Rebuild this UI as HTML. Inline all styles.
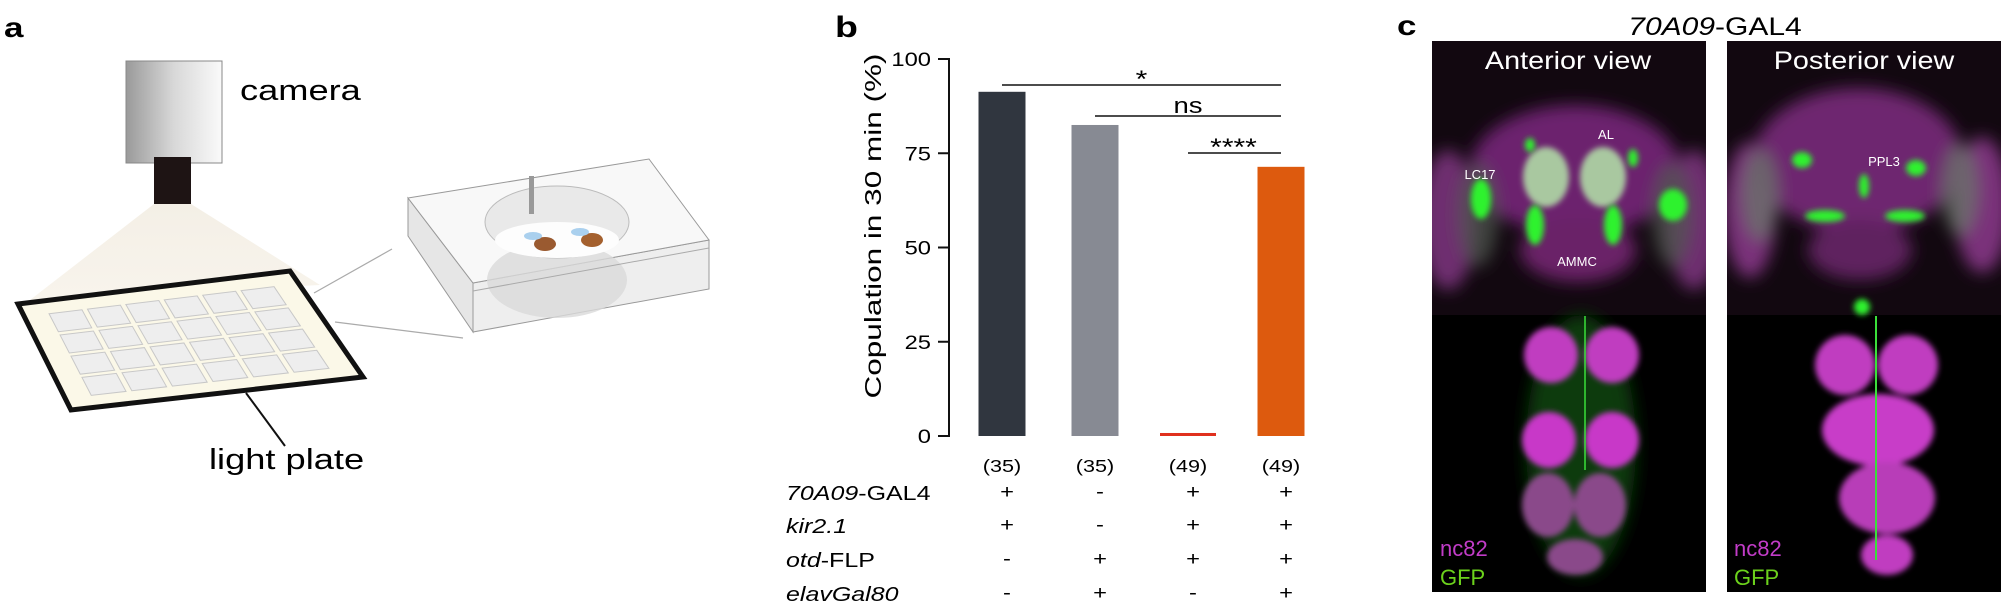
<!DOCTYPE html>
<html><head><meta charset="utf-8"><style>
html,body{margin:0;padding:0;background:#fff;width:2005px;height:616px;overflow:hidden}
svg{display:block;font-family:"Liberation Sans",Arial,sans-serif}
</style></head><body>
<svg id="fig" width="2005" height="616" viewBox="0 0 2005 616" xmlns="http://www.w3.org/2000/svg">
<defs>
<linearGradient id="camg" x1="0" x2="1" y1="0" y2="0"><stop offset="0" stop-color="#9a9a9a"/><stop offset="0.5" stop-color="#d8d8d8"/><stop offset="1" stop-color="#fafafa"/></linearGradient>
<linearGradient id="cone" x1="0" x2="0" y1="0" y2="1"><stop offset="0" stop-color="#f4efe6"/><stop offset="1" stop-color="#f8f4ec"/></linearGradient>
<filter id="b3" x="-30%" y="-30%" width="160%" height="160%"><feGaussianBlur stdDeviation="3"/></filter>
<filter id="b6" x="-30%" y="-30%" width="160%" height="160%"><feGaussianBlur stdDeviation="6"/></filter>
<filter id="b12" x="-40%" y="-40%" width="180%" height="180%"><feGaussianBlur stdDeviation="8"/></filter>
<clipPath id="clipA"><rect x="1432" y="41" width="274" height="551"/></clipPath>
<clipPath id="clipP"><rect x="1727" y="41" width="274" height="551"/></clipPath>
</defs>

<!-- ========== Panel a ========== -->
<g>
<text transform="translate(4,37) scale(1.25,1)" font-size="28" font-weight="bold">a</text>
<polygon points="154,204 191,204 320,285 30,300" fill="url(#cone)"/>
<rect x="126" y="61" width="96" height="102" fill="url(#camg)" stroke="#888" stroke-width="1"/>
<rect x="154" y="157" width="37" height="47" fill="#1e1414"/>
<text transform="translate(240,100) scale(1.25,1)" font-size="29">camera</text>
<polygon points="18,304 290,271 363,377 71,410" fill="#fbf8e8" stroke="#111" stroke-width="5" stroke-linejoin="miter"/>
<g id="wells"></g>
<line x1="246" y1="393" x2="285" y2="446" stroke="#111" stroke-width="2"/>
<text transform="translate(209,469) scale(1.25,1)" font-size="29">light plate</text>
<line x1="314" y1="293" x2="392" y2="249" stroke="#aaa" stroke-width="1.2"/>
<line x1="335" y1="322" x2="463" y2="338" stroke="#aaa" stroke-width="1.2"/>
<g>
<polygon points="408,198 473,283 473,332 408,236" fill="#e6e6e6" stroke="#999" stroke-width="1"/>
<polygon points="473,283 709,240 709,289 473,332" fill="#eeeeee" stroke="#999" stroke-width="1"/>
<polygon points="408,198 649,159 709,240 473,283" fill="#f8f8f8" stroke="#999" stroke-width="1"/>
<ellipse cx="557" cy="280" rx="70" ry="38" fill="#d9d9d9" opacity="0.8"/>
<ellipse cx="557" cy="222" rx="72" ry="36" fill="#e9e9e9" stroke="#bbb"/>
<ellipse cx="557" cy="240" rx="62" ry="18" fill="#fdfdfd"/>
<rect x="529" y="176" width="5" height="38" fill="#999"/>
<ellipse cx="545" cy="244" rx="11" ry="7" fill="#9a5a30"/>
<ellipse cx="592" cy="240" rx="11" ry="7" fill="#a4602e"/>
<ellipse cx="533" cy="236" rx="9" ry="4" fill="#aad0ee"/>
<ellipse cx="580" cy="232" rx="9" ry="4" fill="#aad0ee"/>
<line x1="473" y1="291" x2="709" y2="248" stroke="#aaa"/>
</g>
</g>

<!-- ========== Panel b ========== -->
<g id="chart">
<text transform="translate(835,37) scale(1.25,1)" font-size="30" font-weight="bold">b</text>
<text transform="translate(881,226) rotate(-90)" text-anchor="middle" font-size="23" textLength="345" lengthAdjust="spacingAndGlyphs">Copulation in 30 min (%)</text>
<line x1="949" y1="58" x2="949" y2="437" stroke="#111" stroke-width="2"/>
<g id="yticks"></g>
<g id="bars"></g>
<g id="sig"></g>
<g id="nlabels"></g>
<g id="geno"></g>
</g>

<!-- ========== Panel c ========== -->
<g>
<text transform="translate(1397,35) scale(1.25,1)" font-size="28" font-weight="bold">c</text>
<text transform="translate(1715,35) scale(1.2,1)" text-anchor="middle" font-size="25"><tspan font-style="italic">70A09</tspan>-GAL4</text>

<g clip-path="url(#clipA)">
<rect x="1432" y="41" width="274" height="551" fill="#000"/>
<rect x="1432" y="41" width="274" height="274" fill="#120810"/>
<g filter="url(#b12)">
<ellipse cx="1448" cy="220" rx="28" ry="70" fill="#6e2e70"/>
<ellipse cx="1694" cy="220" rx="28" ry="70" fill="#6e2e70"/>
<ellipse cx="1575" cy="170" rx="105" ry="65" fill="#6c246e"/>
<ellipse cx="1578" cy="250" rx="58" ry="32" fill="#6a2268"/>
<ellipse cx="1478" cy="215" rx="20" ry="52" fill="#505a50" opacity="0.7"/>
<ellipse cx="1672" cy="215" rx="20" ry="52" fill="#505a50" opacity="0.7"/>
</g>
<g filter="url(#b3)">
<ellipse cx="1546" cy="177" rx="23" ry="30" fill="#a9c8a0"/>
<ellipse cx="1603" cy="177" rx="23" ry="30" fill="#a9c8a0"/>
</g>
<g filter="url(#b3)" fill="#2ef22e">
<ellipse cx="1481" cy="199" rx="10" ry="20"/>
<ellipse cx="1673" cy="205" rx="14" ry="16"/>
<ellipse cx="1535" cy="225" rx="9" ry="20"/>
<ellipse cx="1613" cy="225" rx="9" ry="20"/>
<ellipse cx="1530" cy="145" rx="5" ry="7"/>
<ellipse cx="1633" cy="158" rx="5" ry="9"/>
</g>
<g filter="url(#b12)">
<ellipse cx="1581" cy="445" rx="55" ry="130" fill="#0c3a0c"/>
</g>
<g filter="url(#b3)">
<ellipse cx="1551" cy="355" rx="27" ry="28" fill="#c03cc0"/>
<ellipse cx="1612" cy="355" rx="27" ry="28" fill="#c03cc0"/>
<ellipse cx="1549" cy="440" rx="27" ry="28" fill="#c838c8"/>
<ellipse cx="1612" cy="440" rx="27" ry="28" fill="#c838c8"/>
<ellipse cx="1548" cy="505" rx="26" ry="32" fill="#8a4a8a"/>
<ellipse cx="1600" cy="505" rx="26" ry="32" fill="#8a4a8a"/>
<ellipse cx="1575" cy="557" rx="28" ry="18" fill="#8a4a8a"/>
</g>
<line x1="1585" y1="316" x2="1585" y2="470" stroke="#3ae03a" stroke-width="1.5"/>
<text x="1606" y="139" text-anchor="middle" font-size="13" fill="#fff">AL</text>
<text x="1480" y="179" text-anchor="middle" font-size="13" fill="#fff">LC17</text>
<text x="1577" y="266" text-anchor="middle" font-size="13" fill="#fff">AMMC</text>
<text transform="translate(1568,69) scale(1.15,1)" text-anchor="middle" font-size="25" fill="#fff">Anterior view</text>
<text x="1440" y="556" font-size="22" fill="#c23cc8">nc82</text>
<text x="1440" y="585" font-size="22" fill="#6cd21c">GFP</text>
</g>

<g clip-path="url(#clipP)">
<rect x="1727" y="41" width="274" height="551" fill="#000"/>
<rect x="1727" y="41" width="274" height="274" fill="#120810"/>
<g filter="url(#b12)">
<ellipse cx="1750" cy="210" rx="26" ry="68" fill="#7a327a"/>
<ellipse cx="1982" cy="205" rx="28" ry="68" fill="#7a327a"/>
<ellipse cx="1858" cy="160" rx="105" ry="72" fill="#6e2870"/>
<ellipse cx="1860" cy="250" rx="52" ry="30" fill="#5e225e"/>
<ellipse cx="1760" cy="195" rx="18" ry="46" fill="#6a7a6a" opacity="0.7"/>
<ellipse cx="1960" cy="190" rx="18" ry="46" fill="#6a7a6a" opacity="0.7"/>
</g>
<g filter="url(#b3)" fill="#2ef22e">
<ellipse cx="1802" cy="160" rx="10" ry="8"/>
<ellipse cx="1916" cy="168" rx="10" ry="8"/>
<ellipse cx="1825" cy="216" rx="20" ry="6"/>
<ellipse cx="1905" cy="216" rx="20" ry="6"/>
<ellipse cx="1864" cy="186" rx="5" ry="12"/>
<ellipse cx="1862" cy="307" rx="8" ry="8"/>
</g>
<g filter="url(#b3)">
<ellipse cx="1845" cy="365" rx="30" ry="30" fill="#c03cc0"/>
<ellipse cx="1908" cy="365" rx="30" ry="30" fill="#c03cc0"/>
<ellipse cx="1878" cy="430" rx="56" ry="36" fill="#c83cc8"/>
<ellipse cx="1887" cy="498" rx="48" ry="36" fill="#b83cb8"/>
<ellipse cx="1887" cy="555" rx="26" ry="20" fill="#c03cc0"/>
</g>
<line x1="1876" y1="316" x2="1876" y2="560" stroke="#3ae03a" stroke-width="2"/>
<text x="1884" y="166" text-anchor="middle" font-size="13" fill="#fff">PPL3</text>
<text transform="translate(1864,69) scale(1.15,1)" text-anchor="middle" font-size="25" fill="#fff">Posterior view</text>
<text x="1734" y="556" font-size="22" fill="#c23cc8">nc82</text>
<text x="1734" y="585" font-size="22" fill="#6cd21c">GFP</text>
</g>
</g>
</svg>
<script>
const NS = 'http://www.w3.org/2000/svg';
const groups = ['control-1', 'control-2', 'kir-otd', 'kir-otd-elav'];
const copulationPct = [91.3, 82.5, 0.8, 71.4];
const sampleSizes = ['(35)', '(35)', '(49)', '(49)'];
const yTicks = [0, 25, 50, 75, 100];
const rowLabels = ['70A09-GAL4', 'kir2.1', 'otd-FLP', 'elavGal80'];
const rowGal4 = ['+', '-', '+', '+'];
const rowKir = ['+', '-', '+', '+'];
const rowOtd = ['-', '+', '+', '+'];
const rowElav = ['-', '+', '-', '+'];
const sigFrom = [0, 1, 2];
const sigTo = [3, 3, 3];
const sigText = ['*', 'ns', '****'];
const barColors = ['#30363f', '#878a93', '#e0301e', '#dd5a0e'];

function yScale(v) { return 436 - v * 3.77; }
function xScale(i) { return 1002 + i * 93; }
function mk(tag, attrs, parent) {
  const e = document.createElementNS(NS, tag);
  for (const k in attrs) e.setAttribute(k, attrs[k]);
  parent.appendChild(e);
  return e;
}
// wells
const wells = document.getElementById('wells');
const P = [[18,304],[290,271],[363,377],[71,410]];
function lerp(a,b,t){return [a[0]+(b[0]-a[0])*t,a[1]+(b[1]-a[1])*t];}
function pt(u,v){const top=lerp(P[0],P[1],u),bot=lerp(P[3],P[2],u);return lerp(top,bot,v);}
for (let r = 0; r < 4; r++) for (let c = 0; c < 6; c++) {
  const u0=0.09+c*0.14,u1=u0+0.12,v0=0.12+r*0.2,v1=v0+0.17;
  const pts=[pt(u0,v0),pt(u1,v0),pt(u1,v1),pt(u0,v1)].map(p=>p.join(',')).join(' ');
  const w = mk('polygon', {points: pts, fill: '#eeeeee', stroke: '#c8c8c8', 'stroke-width': 1}, wells);
  
  
}
// y ticks
const yt = document.getElementById('yticks');
yTicks.forEach(t => {
  const l = mk('line', {x1: 938, x2: 949, y1: yScale(t), y2: yScale(t), stroke: '#111', 'stroke-width': 2}, yt);
  
  
  const tx = mk('text', {transform: 'translate(931,' + (yScale(t) + 7) + ') scale(1.25,1)', 'text-anchor': 'end', 'font-size': 19}, yt);
  tx.textContent = t;
  
  
});
// bars
const bg = document.getElementById('bars');
copulationPct.forEach((v, i) => {
  const w = i === 2 ? 56 : 47;
  const top = yScale(v);
  const r = mk('rect', {x: xScale(i) - w / 2, y: top, width: w, height: yScale(0) - top, fill: barColors[i]}, bg);
  
  
});
// significance
const sg = document.getElementById('sig');
const sigY = [85, 116, 153];
sigFrom.forEach((f, k) => {
  const l = mk('line', {x1: xScale(f), x2: xScale(sigTo[k]), y1: sigY[k], y2: sigY[k], stroke: '#111', 'stroke-width': 1.6}, sg);
  
  
  const cx = (xScale(f) + xScale(sigTo[k])) / 2 + (k === 2 ? -1 : 0);
  const isNs = sigText[k] === 'ns';
  const by = isNs ? sigY[k] - 3 : sigY[k] + 2;
  const t = mk('text', {transform: 'translate(' + cx + ',' + by + ') scale(1.25,1)', 'text-anchor': 'middle', 'font-size': isNs ? 22 : 24}, sg);
  t.textContent = sigText[k];
  
  
});
// n labels
const nl = document.getElementById('nlabels');
sampleSizes.forEach((s, i) => {
  const t = mk('text', {transform: 'translate(' + xScale(i) + ',472) scale(1.2,1)', 'text-anchor': 'middle', 'font-size': 18}, nl);
  t.textContent = s;
  
  
});
// genotype table
const gt = document.getElementById('geno');
const rows = [rowGal4, rowKir, rowOtd, rowElav];
const rowY = [500, 533, 567, 601];
const labelParts = [
  ['70A09', '-GAL4'], ['kir2.1', ''], ['otd', '-FLP'], ['elavGal80', '']
];
rows.forEach((row, r) => {
  const t = mk('text', {transform: 'translate(786,' + rowY[r] + ') scale(1.25,1)', 'font-size': 20}, gt);
  const a = mk('tspan', {'font-style': 'italic'}, t); a.textContent = labelParts[r][0];
  if (labelParts[r][1]) { const b = mk('tspan', {}, t); b.textContent = labelParts[r][1]; }
  
  
  row.forEach((s, i) => {
    const m = mk('text', {transform: 'translate(' + (xScale(i) + 5) + ',' + (rowY[r] - 2) + ') scale(1.25,1)', 'text-anchor': 'middle', 'font-size': 19}, gt);
    m.textContent = s;
    
    
  });
});
</script>
</body></html>
